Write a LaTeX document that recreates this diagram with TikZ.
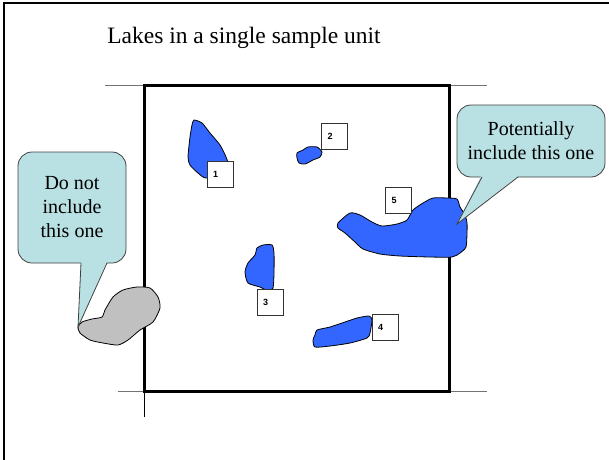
\documentclass[tikz,border=0pt]{standalone}
\usepackage{fontspec}
\setmainfont{Liberation Serif}
\setsansfont{Liberation Sans}
\newfontfamily\timesface{Liberation Serif}
\definecolor{lakeblue}{HTML}{3366FF}
\definecolor{lakegray}{HTML}{C0C0C0}
\definecolor{calloutfill}{HTML}{B9E1E4}
\begin{document}
\begin{tikzpicture}[x=1pt,y=-1pt,
lake/.style={draw=black,line width=0.8pt,fill=lakeblue},
numbox/.style={draw=black!80,line width=0.8pt,fill=white,font=\sffamily\bfseries\fontsize{9}{9}\selectfont,text width=14pt,inner xsep=6pt,align=left,minimum height=26pt},
callout/.style={draw=black!75,line width=0.8pt,fill=calloutfill,rounded corners=14pt,align=center,font=\timesface\fontsize{20}{24}\selectfont}]
\useasboundingbox (0,0) rectangle (609,459);
\coordinate (NW) at (144,85);
\coordinate (NE) at (449,85);
\coordinate (SE) at (449,391);
\coordinate (SW) at (144,391);
\draw[line width=1.5pt] (4,465)--(4,3)--(612,3);
\node[font=\timesface\fontsize{23.5}{28}\selectfont] (title) at (244,38) {Lakes in a single sample unit};
\draw[color=black!55,line width=1pt] (105,85)--(487,85);
\draw[color=black!55,line width=1pt] (118,391)--(487,391);
\draw[line width=1pt] (NW)--(144,417);
\draw[line width=3pt] (NW)--(NE)--(SE)--(SW)--cycle;
% lakes
\draw[lake] plot[smooth cycle,tension=0.4] coordinates {(194,120) (202,123) (210,133) (220,145) (226,157) (227,165) (207,178) (198,173) (190,165) (188,157) (190,137) (192,125)};
\draw[lake] plot[smooth cycle,tension=0.4] coordinates {(297,153) (303,150) (308,147) (317,147) (322,152) (320,157) (313,160) (305,164) (299,163) (297,158)};
\draw[lake] plot[smooth cycle,tension=0.4] coordinates {(257,248) (263,245) (272,245) (274,253) (274,273) (273,288) (268,291) (260,287) (248,283) (245,272) (248,263) (255,255)};
\draw[lake] plot[smooth cycle,tension=0.4] coordinates {(317,330) (330,327) (345,322) (357,318) (369,316) (372,320) (370,333) (367,338) (350,343) (330,346) (315,347) (313,340) (315,335)};
\draw[lake] plot[smooth cycle,tension=0.4] coordinates {(338,223) (350,213) (360,215) (372,222) (382,226) (397,224) (407,220) (413,210) (423,203) (433,198) (447,198) (457,199) (460,207) (465,215) (467,223) (467,233) (466,247) (460,253) (452,257) (430,257) (400,256) (380,254) (363,249) (355,242) (345,233) (338,228)};
\draw[lake,fill=lakegray] plot[smooth cycle,tension=0.4] coordinates {(78,327) (82,322) (92,319) (102,317) (105,310) (113,297) (123,290) (137,287) (150,288) (158,297) (160,308) (153,322) (140,330) (128,340) (118,345) (103,343) (90,340) (80,333)};
% callouts
\node[callout,minimum width=108pt,minimum height=111pt] (c1) at (72,207.5) {Do not\\include\\this one};
\coordinate (T1a) at (81,263);
\coordinate (T1b) at (107,263);
\coordinate (T1) at (78,327);
\fill[color=calloutfill] (80.9,261)--(T1)--(107.3,261)--cycle;
\draw[color=black!75,line width=0.8pt] (T1a)--(T1)--(T1b);
\node[callout,minimum width=148pt,minimum height=72pt] (c2) at (531,141) {Potentially\\include this one};
\coordinate (T2a) at (482,177);
\coordinate (T2b) at (518,177);
\coordinate (T2) at (457,224);
\fill[color=calloutfill] (481.6,175)--(T2)--(519.4,175)--cycle;
\draw[color=black!75,line width=0.8pt] (T2a)--(T2)--(T2b);
% number boxes
\foreach \n/\x/\y in {1/220/174.5,2/334.5/136,3/270/302,4/385/327.5,5/398.5/200}{
\node[numbox] (b\n) at (\x,\y) {\n};
}
\end{tikzpicture}
\end{document}
